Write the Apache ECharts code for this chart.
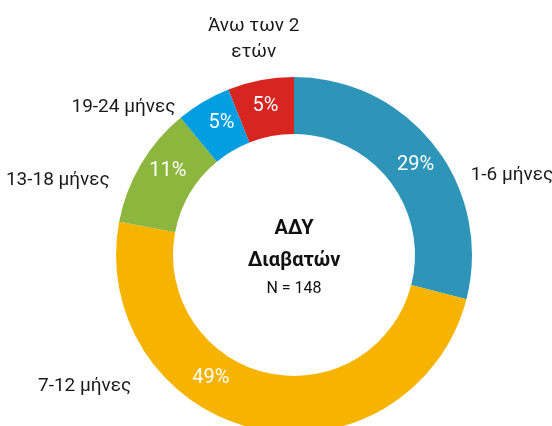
<!DOCTYPE html>
<html>
<head>
<meta charset="utf-8">
<script src="https://cdn.jsdelivr.net/npm/echarts@6/dist/echarts.min.js"></script>
<style>
  html, body { margin: 0; padding: 0; background: #fff; }
  #chart { width: 552px; height: 426px; }
</style>
</head>
<body>
<div id="chart"></div>
<script>
// slice data
const categories = ["1-6 μήνες", "7-12 μήνες", "13-18 μήνες", "19-24 μήνες", "Άνω των 2\nετών"];
const shares = [29, 49, 11, 5, 6];
const shareLabels = ["29%", "49%", "11%", "5%", "5%"];
const colors = ["#2e95b8", "#f6b400", "#8db63e", "#029ee1", "#d8251f"];
const centerTitle = ["ΑΔΥ", "Διαβατών"];
const totalN = 148;

// label nudges (the original places labels by hand, not at mid-angle)
const innerNudge = [[1, 3], [-50, -26], [5, -6], [5, -1], [0, 1]];
const outerNudge = [[31, 29], [-119, -42], [-26, 16], [-23, 5], [-2, -41]];

const FONT = "Roboto, 'Noto Sans', sans-serif";
const CENTER = [294, 255];
const RADIUS = [121, 178];

const pieData = categories.map((name, i) => ({
  name: name,
  value: shares[i],
  itemStyle: { color: colors[i] },
}));

const option = {
  backgroundColor: "#fff",
  animation: false,
  graphic: [
    {
      type: "text",
      x: CENTER[0],
      y: 213,
      style: {
        text: `{b|${centerTitle[0]}}\n{b|${centerTitle[1]}}\n{n|N = ${totalN}}`,
        align: "center",
        verticalAlign: "top",
        rich: {
          b: { fontSize: 20, fontWeight: "bold", fontFamily: FONT, lineHeight: 32, fill: "#111" },
          n: { fontSize: 16, fontFamily: FONT, lineHeight: 23, fill: "#111" },
        },
      },
    },
  ],
  series: [
    {
      type: "pie",
      center: CENTER,
      radius: RADIUS,
      startAngle: 90,
      clockwise: true,
      silent: true,
      avoidLabelOverlap: false,
      data: pieData,
      itemStyle: { borderWidth: 0 },
      label: {
        position: "inside",
        formatter: (p) => shareLabels[p.dataIndex],
        color: "#fff",
        fontSize: 20,
        fontFamily: FONT,
      },
      labelLine: { show: false },
      labelLayout: (p) => ({ dx: innerNudge[p.dataIndex][0], dy: innerNudge[p.dataIndex][1] }),
    },
    {
      // transparent copy that only carries the category labels
      type: "pie",
      center: CENTER,
      radius: RADIUS,
      startAngle: 90,
      clockwise: true,
      silent: true,
      avoidLabelOverlap: false,
      data: pieData.map((d) => ({ name: d.name, value: d.value })),
      itemStyle: { color: "rgba(0,0,0,0)", borderWidth: 0 },
      label: {
        position: "outside",
        formatter: "{b}",
        color: "#1a1a1a",
        fontSize: 19,
        lineHeight: 26,
        fontFamily: FONT,
        distanceToLabelLine: 5,
      },
      labelLine: { show: false, length: 0, length2: 0 },
      labelLayout: (p) => {
        const o = outerNudge[p.dataIndex];
        const res = { dx: o[0], dy: o[1] };
        if (p.dataIndex === 4) res.align = "center";
        return res;
      },
    },
  ],
};

const chart = echarts.init(document.getElementById("chart"));
chart.setOption(option);
</script>
</body>
</html>
